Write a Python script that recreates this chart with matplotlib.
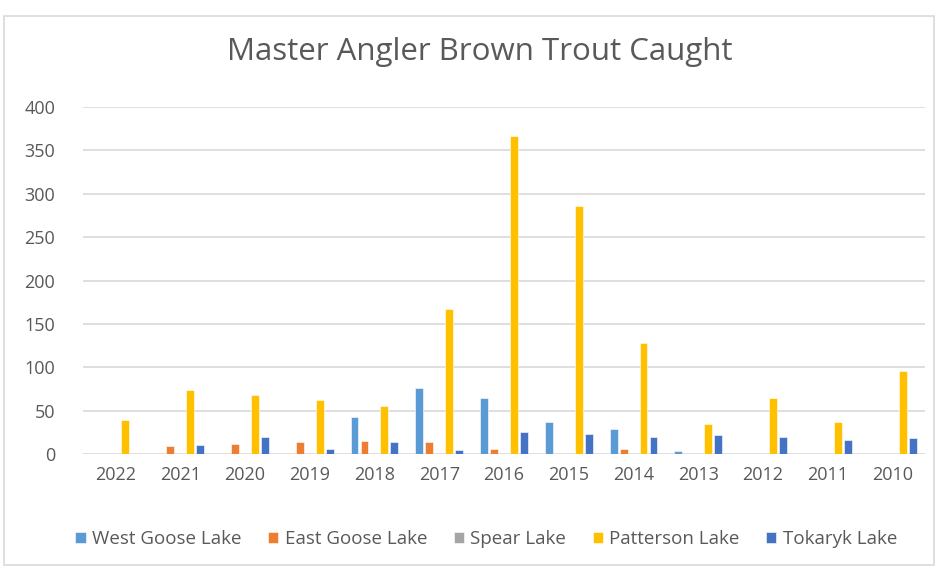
import numpy as np
import matplotlib.pyplot as plt

years = ['2022', '2021', '2020', '2019', '2018', '2017', '2016',
         '2015', '2014', '2013', '2012', '2011', '2010']
west_goose = [0, 0, 0, 0, 43, 76, 64, 37, 29, 3, 0, 0, 0]
east_goose = [0, 9, 12, 14, 15, 14, 6, 0, 6, 0, 0, 0, 0]
spear = [0, 0, 0, 0, 0, 0, 0, 0, 0, 0, 0, 0, 0]
patterson = [39, 74, 68, 62, 55, 167, 366, 286, 128, 35, 64, 37, 96]
tokaryk = [0, 10, 20, 6, 14, 5, 25, 23, 20, 22, 20, 16, 19]

series = [('West Goose Lake', west_goose, '#5b9bd5'),
          ('East Goose Lake', east_goose, '#ed7d31'),
          ('Spear Lake', spear, '#a5a5a5'),
          ('Patterson Lake', patterson, '#ffc000'),
          ('Tokaryk Lake', tokaryk, '#4472c4')]

plt.rcParams['font.family'] = ['Open Sans', 'DejaVu Sans']
txt = '#595959'

fig = plt.figure(figsize=(9.38, 5.67), dpi=100)
ax = fig.add_axes([83 / 938, 1 - 454 / 567, 842 / 938, 347 / 567])

x = np.arange(len(years))
step = 0.154
width = 0.123
for i, (name, vals, color) in enumerate(series):
    ax.bar(x + (i - 2) * step, vals, width, color=color, label=name,
           edgecolor='white', linewidth=0.4, zorder=3)

ax.set_xlim(-0.5, len(years) - 0.5)
ax.set_ylim(0, 400)
ax.set_yticks(range(0, 401, 50))
ax.set_xticks(x)
ax.set_xticklabels(years)
ax.grid(axis='y', color='#d9d9d9', linewidth=1.2, zorder=0)
for s in ax.spines.values():
    s.set_visible(False)
ax.tick_params(length=0, colors=txt, labelsize=13)
ax.tick_params(axis='y', pad=20)
ax.tick_params(axis='x', pad=9)

fig.text(0.511, 1 - 52 / 567, 'Master Angler Brown Trout Caught',
         ha='center', va='center', fontsize=22.5, color=txt)

ax.legend(loc='center', bbox_to_anchor=(0.479, -0.245), ncol=5, frameon=False,
          fontsize=13.5, labelcolor=txt, handlelength=0.55, handleheight=0.55,
          handletextpad=0.35, columnspacing=1.4)

fig.patches.append(plt.Rectangle((0.004, 0.004), 0.992, 0.968,
                                 transform=fig.transFigure, fill=False,
                                 edgecolor='#d9d9d9', linewidth=1.2))

fig.savefig('out.png', dpi=100)
